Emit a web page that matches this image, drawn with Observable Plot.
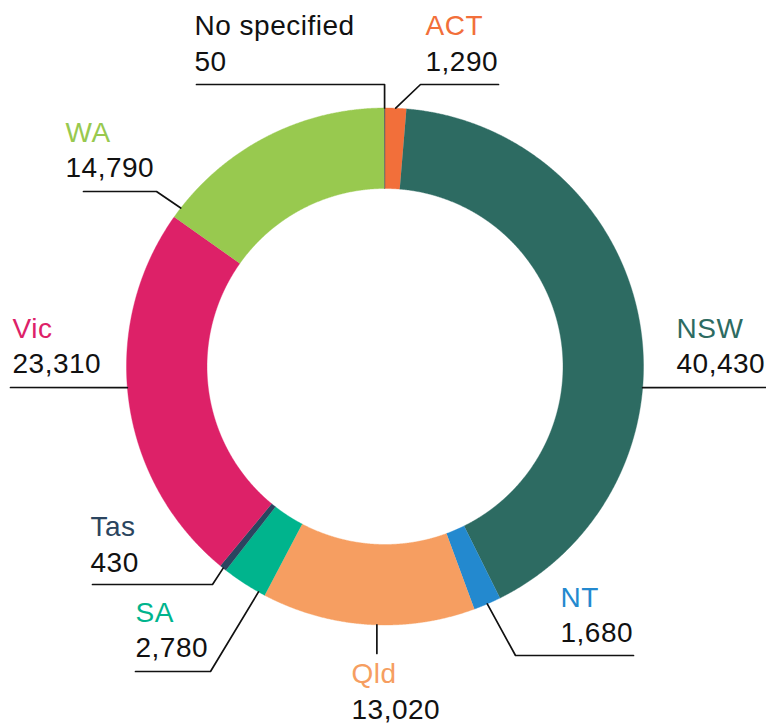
<!DOCTYPE html>
<html><head><meta charset="utf-8">
<script src="https://cdn.jsdelivr.net/npm/d3@7"></script>
<script src="https://cdn.jsdelivr.net/npm/@observablehq/plot@0.6"></script>
<style>html,body{margin:0;padding:0;background:#fff;} #chart svg{display:block;} #chart svg text{letter-spacing:0.5px;}</style>
</head><body><div id="chart"></div>
<script>
// ---- data ----
const categories = ["ACT", "NSW", "NT", "Qld", "SA", "Tas", "Vic", "WA", "No specified"];
const values = [1290, 40430, 1680, 13020, 2780, 430, 23310, 14790, 50];
const colors = ["#F26F3A", "#2D6B62", "#2389CF", "#F69E61", "#00B48D", "#2B4560", "#DD2168", "#98C94F", "#555555"];

// ---- layout (pixels) ----
const ring = {cx: 384.5, cy: 366, outer: 258.5, inner: 178};
const fontSize = 28, lineGap = 35.5;
// per-label: anchor angle override (deg, clockwise from top), leader path, text position (value baseline)
const labelLayout = {
  "ACT":          {via: [[420, 84]], end: [498, 84], tx: 425, ty: 70},
  "NSW":          {angle: 94.7, via: [], end: [766, 387], tx: 676, ty: 372.7},
  "NT":           {via: [[515, 655]], end: [633, 655], tx: 560, ty: 641.7},
  "Qld":          {angle: 181.8, via: [], end: [null, 653], tx: 351, ty: 718.3},
  "SA":           {angle: 209.3, via: [[210, 671]], end: [135, 671], tx: 135, ty: 656.7},
  "Tas":          {via: [[212, 584]], end: [92, 584], tx: 90, ty: 571},
  "Vic":          {angle: 265.3, via: [], end: [10, 387], tx: 12, ty: 372.7},
  "WA":           {angle: 307.8, via: [[156, 191]], end: [83, 191], tx: 65, ty: 176.7},
  "No specified": {via: [], end: [null, 84], tx: 194, ty: 70, via2: [[196, 84]], black: true}
};

// ---- derived ----
const colorOf = new Map(categories.map((c, i) => [c, colors[i]]));
const rows = categories.map((c, i) => ({key: c, value: values[i]}));
const arcs = d3.pie().sort(null).value(d => d.value)(rows);
const pt = (r, a) => [ring.cx + r * Math.sin(a), ring.cy - r * Math.cos(a)];

const slicePts = [];
for (const a of arcs) {
  const n = Math.max(2, Math.ceil((a.endAngle - a.startAngle) / (0.2 * Math.PI / 180)));
  for (let i = 0; i <= n; i++) {
    const t = a.startAngle + (a.endAngle - a.startAngle) * i / n;
    const [x, y] = pt(ring.outer, t);
    slicePts.push({key: a.data.key, x, y});
  }
  for (let i = n; i >= 0; i--) {
    const t = a.startAngle + (a.endAngle - a.startAngle) * i / n;
    const [x, y] = pt(ring.inner, t);
    slicePts.push({key: a.data.key, x, y});
  }
}

const leaderPts = [];
const labels = [];
for (const a of arcs) {
  const k = a.data.key, L = labelLayout[k];
  const ang = L.angle != null ? L.angle * Math.PI / 180 : (a.startAngle + a.endAngle) / 2;
  const [ax, ay] = pt(ring.outer, ang);
  const path = [[ax, ay], ...L.via, [L.end[0] == null ? ax : L.end[0], L.end[1]]];
  if (L.via2) path.push(...L.via2);
  path.forEach(([x, y]) => leaderPts.push({key: k, x, y}));
  labels.push({key: k, value: a.data.value, x: L.tx, y: L.ty, black: !!L.black});
}

const fmt = d3.format(",");
const chart = Plot.plot({
  width: 766, height: 727,
  marginTop: 0, marginRight: 0, marginBottom: 0, marginLeft: 0,
  x: {domain: [0, 766], range: [0, 766], axis: null},
  y: {domain: [0, 727], range: [0, 727], axis: null},
  color: {domain: categories, range: colors},
  style: {fontFamily: "'Liberation Sans', Arial, Helvetica, sans-serif", background: "white"},
  marks: [
    Plot.line(slicePts, {x: "x", y: "y", z: "key", fill: "key", stroke: "key", strokeWidth: 0.4, curve: "linear"}),
    Plot.line(leaderPts, {x: "x", y: "y", z: "key", stroke: "#111", strokeWidth: 1.7, curve: "linear"}),
    Plot.text(labels, {x: "x", y: d => d.y - lineGap, text: "key", textAnchor: "start", lineAnchor: "bottom",
      fontSize, fill: {value: d => d.black ? "#111" : colorOf.get(d.key), scale: null}}),
    Plot.text(labels, {x: "x", y: "y", text: d => fmt(d.value), textAnchor: "start", lineAnchor: "bottom",
      fontSize, fill: "#111"})
  ]
});
document.getElementById("chart").appendChild(chart);
</script>
</body></html>
